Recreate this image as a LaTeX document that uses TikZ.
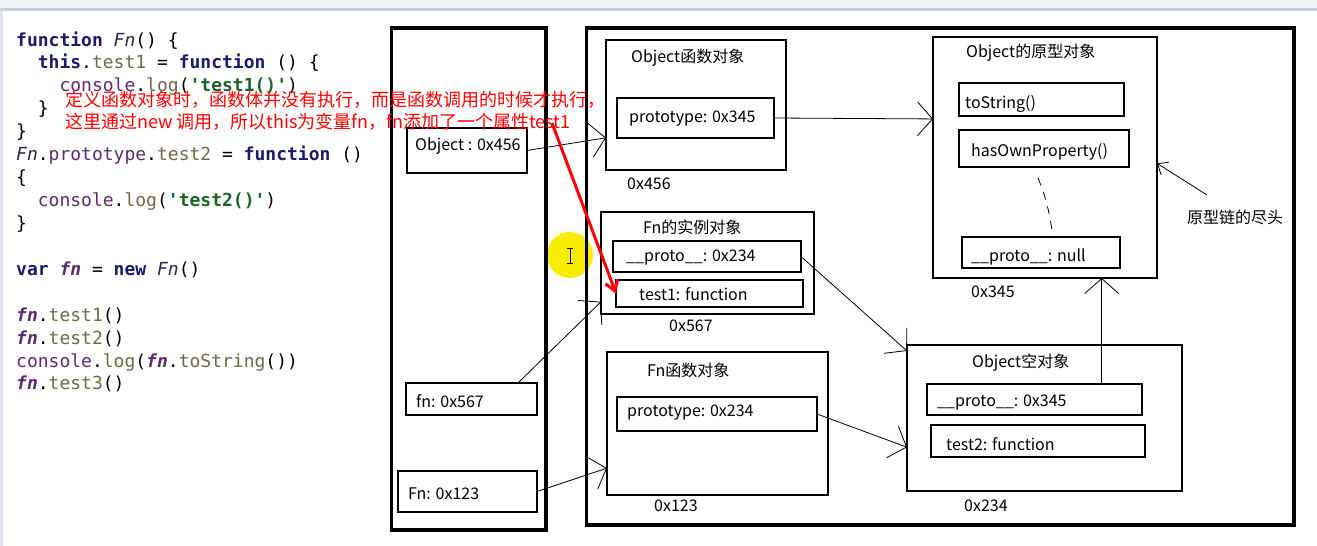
\documentclass[tikz,border=0pt]{standalone}
\usepackage{fontspec}
\setmainfont{Noto Sans CJK SC}
\newfontfamily\codefont{DejaVu Sans Mono}
\usetikzlibrary{arrows.meta}

\definecolor{kwc}{RGB}{27,27,110}
\definecolor{prc}{RGB}{112,106,72}
\definecolor{obc}{RGB}{96,42,110}
\definecolor{stc}{RGB}{26,100,40}
\definecolor{fnc}{RGB}{40,40,80}
\definecolor{bartop}{RGB}{240,241,243}
\definecolor{barline}{RGB}{196,206,222}
\definecolor{barleft}{RGB}{220,228,240}
\definecolor{hilite}{RGB}{248,236,0}

\newcommand\jskw[1]{\textcolor{kwc}{\bfseries #1}}
\newcommand\jsprop[1]{\textcolor{prc}{#1}}
\newcommand\jsobj[1]{\textcolor{obc}{#1}}
\newcommand\jsstr[1]{\textcolor{stc}{\bfseries\textquotesingle #1\textquotesingle}}
\newcommand\jsfn[1]{\textcolor{fnc}{\itshape #1}}
\newcommand\jsvar[1]{\textcolor{obc}{\bfseries\itshape #1}}

\begin{document}
\begin{tikzpicture}[x=1pt,y=-1pt,
  wall/.style={draw,line width=3.5pt,anchor=north west,inner sep=0pt,outer sep=0pt},
  box/.style={draw,line width=1.1pt,anchor=north west,inner sep=0pt,outer sep=0pt},
  txt/.style={anchor=west,inner sep=0pt,font=\fontsize{16}{19}\selectfont},
  code/.style={anchor=base west,inner sep=0pt,font=\codefont\fontsize{18}{23}\selectfont},
  note/.style={anchor=base west,inner sep=0pt,text=red,font=\fontsize{18}{22}\selectfont},
  arr/.style={line width=0.8pt,-{Straight Barb[length=15pt,width=34pt]}},
  arrs/.style={line width=0.8pt,-{Straight Barb[length=9pt,width=15pt]}},
  redarr/.style={draw=red,line width=3pt,-{Straight Barb[length=10pt,width=13pt]}}]
\useasboundingbox (0,0) rectangle (1317,546);
\fill[white] (0,0) rectangle (1317,546);
\fill[bartop] (0,0) rectangle (1317,8);
\fill[barline] (0,8) rectangle (1317,10.5);
\fill[barleft] (0,10.5) rectangle (3,546);

\foreach \n/\txt in {
  1/{\jskw{function} \jsfn{Fn}() \{},
  2/{\hphantom{xx}\jskw{this}.\jsprop{test1} = \jskw{function} () \{},
  3/{\hphantom{xxxx}\jsobj{console}.\jsprop{log}(\jsstr{test1()})},
  4/{\hphantom{xx}\}},
  5/{\}},
  6/{\jsfn{Fn}.\jsobj{prototype}.\jsprop{test2} = \jskw{function} ()},
  7/{\{},
  8/{\hphantom{xx}\jsobj{console}.\jsprop{log}(\jsstr{test2()})},
  9/{\}},
  11/{\jskw{var} \jsvar{fn} = \jskw{new} \jsfn{Fn}()},
  13/{\jsvar{fn}.\jsprop{test1}()},
  14/{\jsvar{fn}.\jsprop{test2}()},
  15/{\jsobj{console}.\jsprop{log}(\jsvar{fn}.\jsprop{toString}())},
  16/{\jsvar{fn}.\jsprop{test3}()}}
  \node[code] (c\n) at (16,{46+22.93*(\n-1)}) {\txt};

\fill[hilite] (570,255) circle (23);
\draw[line width=0.9pt] (567,248) -- (573,248) (570,248) -- (570,263) (567,263) -- (573,263);

\node[wall,minimum width=154.5,minimum height=502] (stack) at (391.5,28) {};
\node[wall,minimum width=707.5,minimum height=497] (heap) at (586.5,28) {};

\node[box,minimum width=120,minimum height=45] (ob456) at (407,128) {};
\node[box,minimum width=131,minimum height=32] (fn567) at (406,383) {};
\node[box,minimum width=139,minimum height=41] (Fn123) at (398,471) {};
\node[box,minimum width=180,minimum height=130] (objfn) at (606,40) {};
\node[box,minimum width=157,minimum height=40] (p345) at (617,98) {};
\node[box,minimum width=224,minimum height=241] (objpro) at (933,37) {};
\node[box,minimum width=165,minimum height=33] (tostr) at (959,83) {};
\node[box,minimum width=170,minimum height=37] (hasown) at (959,130) {};
\node[box,minimum width=158,minimum height=31] (pnull) at (962,237) {};
\node[box,minimum width=213,minimum height=102] (inst) at (601,212) {};
\node[box,minimum width=188,minimum height=31] (iproto) at (613,241) {};
\node[box,minimum width=187,minimum height=27] (itest1) at (616,280) {};
\node[box,minimum width=221,minimum height=143] (fnfn) at (607,352) {};
\node[box,minimum width=200,minimum height=34] (p234) at (617,397) {};
\node[box,minimum width=275,minimum height=146] (objemp) at (907,345) {};
\node[box,minimum width=215,minimum height=31] (eproto) at (927,384) {};
\node[box,minimum width=214,minimum height=32] (etest2) at (931,425) {};

\node[txt] (t456) at (415,146) {Object : 0x456};
\node[txt] (t567) at (416,401) {fn: 0x567};
\node[txt] (t123) at (408,494) {Fn: 0x123};
\node[txt] (tobjfn) at (631,58) {Object函数对象};
\node[txt] (tp345) at (629,119) {prototype: 0x345};
\node[txt] (a456) at (627,184) {0x456};
\node[txt] (tobjpro) at (966,53) {Object的原型对象};
\node[txt] (ttostr) at (965,104) {toString()};
\node[txt] (thas) at (971,152) {hasOwnProperty()};
\node[txt] (tpnull) at (971,257) {\_\_proto\_\_: null};
\node[txt] (a345) at (971,292) {0x345};
\node[txt] (tinst) at (643,227) {Fn的实例对象};
\node[txt] (tiproto) at (626,258) {\_\_proto\_\_: 0x234};
\node[txt] (titest1) at (639,294) {test1: function};
\node[txt] (a567) at (669,326) {0x567};
\node[txt] (tfnfn) at (647,370) {Fn函数对象};
\node[txt] (tp234) at (627,413) {prototype: 0x234};
\node[txt] (a123) at (654,506) {0x123};
\node[txt] (tobjemp) at (972,363) {Object空对象};
\node[txt] (teproto) at (937,403) {\_\_proto\_\_: 0x345};
\node[txt] (tetest2) at (946,444) {test2: function};
\node[txt] (a234) at (964,506) {0x234};
\node[txt] (lend) at (1187,217) {原型链的尽头};

\draw[arr] (ob456.east) -- (objfn.200);
\draw[arr] (p345.east) -- (objpro.161);
\draw[arr] (fn567.19) -- (inst.200);
\draw[arr] (Fn123.east) -- (fnfn.202);
\draw[arr] (iproto.east) -- (objemp.154);
\draw[arr] (p234.east) -- (objemp.192);
\draw[arr] (eproto.13) -- (eproto.13 |- objpro.south);
\coordinate (tail) at (1207,195);
\draw[arrs] (tail) -- (objpro.-3);
\draw[line width=0.8pt,dash pattern=on 8pt off 7pt,shorten <=12pt] ([xshift=-11pt]hasown.south) to[bend left=8] ([xshift=12pt]pnull.north);

\node[note] (note1) at (65,106) {定义函数对象时，函数体并没有执行，而是函数调用的时候才执行，};
\node[note] (note2) at (65,128) {这里通过new 调用，所以this为变量fn，fn添加了一个属性test1};
\coordinate (rs) at (552,123);
\draw[redarr] (rs) -- (itest1.west);
\end{tikzpicture}
\end{document}
